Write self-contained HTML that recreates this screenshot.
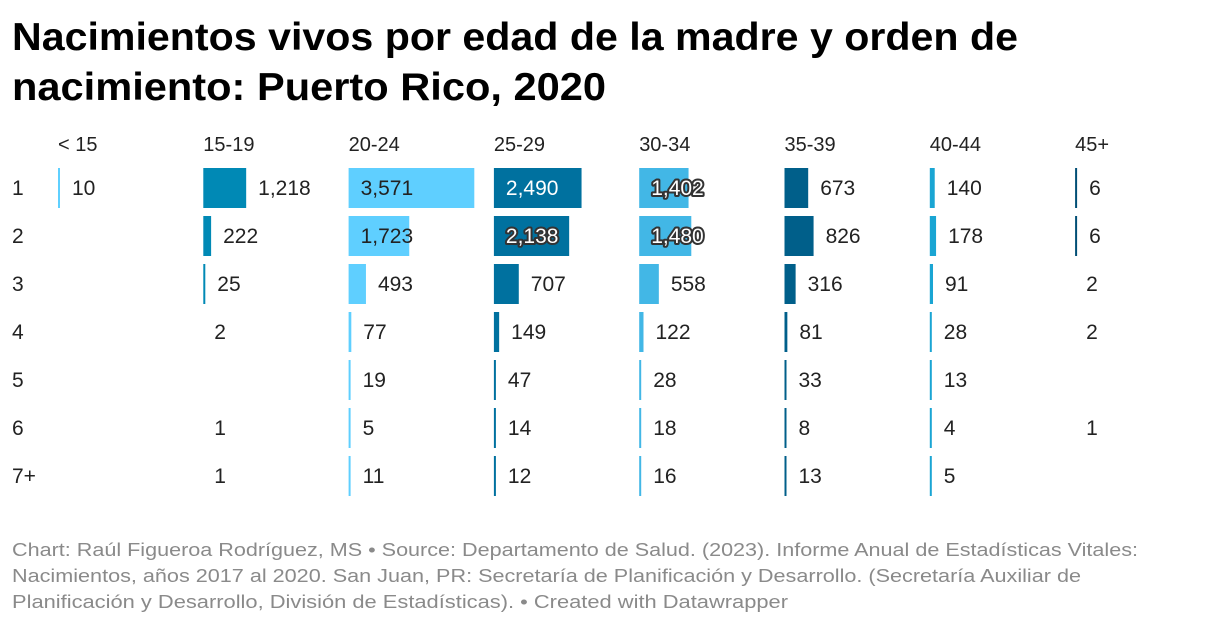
<!DOCTYPE html>
<html><head><meta charset="utf-8"><style>
html,body{margin:0;padding:0;background:#fff;}
svg{display:block;font-family:"Liberation Sans",sans-serif;}
</style></head><body>
<svg id="chart" width="1220" height="624" viewBox="0 0 1220 624" xmlns="http://www.w3.org/2000/svg">
<text x="12" y="50" font-size="39" font-weight="bold" fill="#000" textLength="1006" lengthAdjust="spacingAndGlyphs">Nacimientos vivos por edad de la madre y orden de</text>
<text x="12" y="100" font-size="39" font-weight="bold" fill="#000" textLength="594" lengthAdjust="spacingAndGlyphs">nacimiento: Puerto Rico, 2020</text>
<g id="plot"></g>
<g font-size="18" fill="#8a8a8a">
<text x="12" y="556" textLength="1126" lengthAdjust="spacingAndGlyphs">Chart: Raúl Figueroa Rodríguez, MS • Source: Departamento de Salud. (2023). Informe Anual de Estadísticas Vitales:</text>
<text x="12" y="582" textLength="1069" lengthAdjust="spacingAndGlyphs">Nacimientos, años 2017 al 2020. San Juan, PR: Secretaría de Planificación y Desarrollo. (Secretaría Auxiliar de</text>
<text x="12" y="608" textLength="776" lengthAdjust="spacingAndGlyphs">Planificación y Desarrollo, División de Estadísticas).  • Created with Datawrapper</text>
</g>
</svg>
<script>
const ageGroups = ["< 15","15-19","20-24","25-29","30-34","35-39","40-44","45+"];
const birthOrders = ["1","2","3","4","5","6","7+"];
const colLt15 = [10,null,null,null,null,null,null];
const col15_19 = [1218,222,25,2,null,1,1];
const col20_24 = [3571,1723,493,77,19,5,11];
const col25_29 = [2490,2138,707,149,47,14,12];
const col30_34 = [1402,1480,558,122,28,18,16];
const col35_39 = [673,826,316,81,33,8,13];
const col40_44 = [140,178,91,28,13,4,5];
const col45p = [6,6,2,2,null,1,null];
const values = [colLt15,col15_19,col20_24,col25_29,col30_34,col35_39,col40_44,col45p];
const colColors = ["#5fd0ff","#0089b5","#5fcfff","#00719f","#42b7e6","#005f8a","#1aa5d3","#004e75"];
const noBar = {"1-3":1,"1-5":1,"1-6":1,"7-2":1,"7-3":1,"7-5":1};
const lightCols = {0:1,2:1};

const NS="http://www.w3.org/2000/svg";
const g=document.getElementById('plot');
const colX=i=>58+i*145.3;
const rowY=j=>188+j*48;
const xScale=v=>v*0.0352;
function fmt(v){return v.toLocaleString('en-US');}
function mk(tag,attrs){const e=document.createElementNS(NS,tag);for(const k in attrs)e.setAttribute(k,attrs[k]);return e;}

ageGroups.forEach((a,i)=>{
  const t=mk('text',{x:colX(i),y:151,'font-size':20,fill:'#222'});
  
  
  t.textContent=a;g.appendChild(t);
});
birthOrders.forEach((o,j)=>{
  const t=mk('text',{x:12,y:rowY(j)+7,'font-size':21,fill:'#222'});
  
  
  t.textContent=o;g.appendChild(t);
});
values.forEach((col,i)=>{
  col.forEach((v,j)=>{
    if(v===null)return;
    const x0=colX(i), cy=rowY(j);
    let w=0;
    if(!noBar[i+'-'+j]){
      w=Math.max(2,xScale(v));
      const r=mk('rect',{x:x0,y:cy-20,width:w,height:40,fill:colColors[i]});
      
      
      g.appendChild(r);
    }
    let lx, fill='#222', halo=false;
    if(v>1300){
      lx=x0+12;
      if(!lightCols[i]){fill='#fff'; halo=!(i===3&&j===0);}
    } else {
      lx=x0+(noBar[i+'-'+j]?11:w+12);
    }
    const t=mk('text',{x:lx,y:cy+7,'font-size':21,fill:fill});
    if(halo){t.setAttribute('stroke','#333');t.setAttribute('stroke-width','4');t.setAttribute('paint-order','stroke');t.setAttribute('stroke-linejoin','round');}
    
    
    t.textContent=fmt(v);g.appendChild(t);
  });
});
</script>
</body></html>
